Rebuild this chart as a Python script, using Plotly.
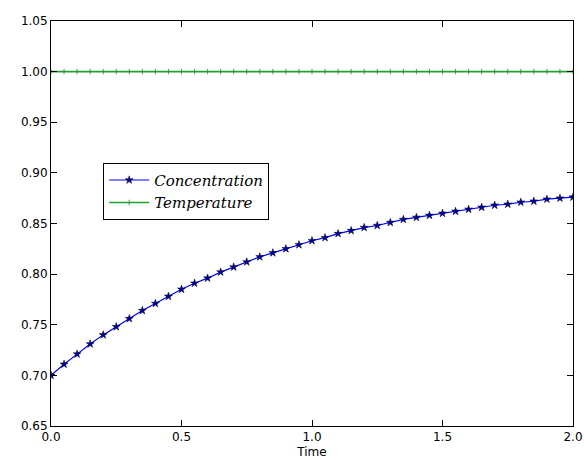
import plotly.graph_objects as go

time = [0.00, 0.05, 0.10, 0.15, 0.20, 0.25, 0.30, 0.35, 0.40, 0.45,
        0.50, 0.55, 0.60, 0.65, 0.70, 0.75, 0.80, 0.85, 0.90, 0.95,
        1.00, 1.05, 1.10, 1.15, 1.20, 1.25, 1.30, 1.35, 1.40, 1.45,
        1.50, 1.55, 1.60, 1.65, 1.70, 1.75, 1.80, 1.85, 1.90, 1.95, 2.00]
concentration = [0.700, 0.711, 0.721, 0.731, 0.740, 0.748, 0.756, 0.764, 0.771, 0.778,
                 0.785, 0.791, 0.796, 0.802, 0.807, 0.812, 0.817, 0.821, 0.825, 0.829,
                 0.833, 0.836, 0.840, 0.843, 0.846, 0.848, 0.851, 0.854, 0.856, 0.858,
                 0.860, 0.862, 0.864, 0.866, 0.868, 0.869, 0.871, 0.872, 0.874, 0.875, 0.876]
temperature = [1.0] * len(time)

fig = go.Figure()
fig.add_trace(go.Scatter(
    x=time, y=concentration, mode="lines+markers", name="<i>Concentration</i>",
    line=dict(color="#0000ff", width=1.2),
    marker=dict(symbol="star", size=6, color="#0000aa", line=dict(color="black", width=0.5)),
))
fig.add_trace(go.Scatter(
    x=time, y=temperature, mode="lines+markers", name="<i>Temperature</i>",
    line=dict(color="#22a02c", width=1.6),
    marker=dict(symbol="line-ns", size=4, color="#2a7a2a", line=dict(color="#3a7a3a", width=0.8)),
))

axis_common = dict(
    showline=True, linecolor="black", linewidth=1, mirror="ticks",
    ticks="inside", ticklen=6, tickcolor="black", tickwidth=1,
    showgrid=False, zeroline=False, automargin=False,
    tickfont=dict(family="DejaVu Sans", size=12, color="black"),
)

fig.update_xaxes(range=[0, 2.0], tickvals=[0, 0.5, 1.0, 1.5, 2.0], tickformat=".1f",
                 title=dict(text="Time", font=dict(family="DejaVu Sans", size=12, color="black"), standoff=4),
                 **axis_common)
fig.update_yaxes(range=[0.65, 1.05], tickvals=[0.65, 0.70, 0.75, 0.80, 0.85, 0.90, 0.95, 1.00, 1.05],
                 tickformat=".2f", **axis_common)

fig.update_layout(
    width=584, height=464,
    margin=dict(l=51, r=11, t=21, b=38),
    paper_bgcolor="white", plot_bgcolor="white",
    showlegend=True,
    legend=dict(x=0.10, y=0.65, xanchor="left", yanchor="top",
                bordercolor="black", borderwidth=1, bgcolor="white",
                font=dict(family="DejaVu Serif", size=15, color="black"),
                itemwidth=40),
)

fig.write_html("out.html", config={"displayModeBar": False},
               post_script="document.body.style.margin='0';")
